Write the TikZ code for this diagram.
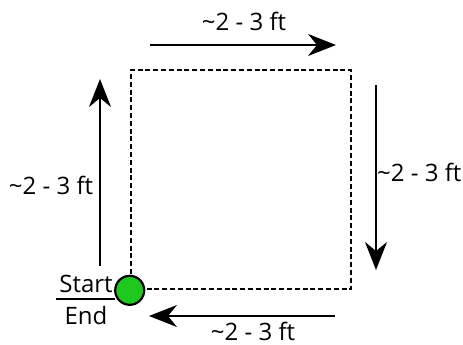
\documentclass[tikz,border=0pt]{standalone}
\usepackage{fontspec}
\setmainfont{Open Sans}
\usetikzlibrary{arrows.meta,positioning}
\definecolor{cStart}{RGB}{30,200,30}
\tikzset{
  lbl/.style={font=\fontsize{24}{28}\selectfont,inner sep=1pt},
  arr/.style={-{Stealth[length=28pt,width=22pt,inset=9pt]},line width=1.6pt},
  route/.style={draw,dash pattern=on 5pt off 2.8pt,line width=2.6pt,
                minimum width=220pt,minimum height=219pt,inner sep=0pt},
  startdot/.style={circle,draw,fill=cStart,line width=2.2pt,
                   minimum size=29pt,inner sep=0pt}
}
\newcommand{\dist}{\textasciitilde 2 - 3 ft}
\begin{document}
\begin{tikzpicture}[x=1pt,y=-1pt]
  \useasboundingbox (0,0) rectangle (463,345);

  % walking square
  \node[route] (sq) at (241,179.5) {};
  \node[startdot] (start) at (sq.south west) {};

  % start / end label
  \node[lbl] (st) at (86,284) {Start};
  \node[lbl] (en) at (86,315) {End};
  \draw[line width=1.4pt] ([xshift=-2pt,yshift=-5pt]st.south west)
      -- ([xshift=1pt,yshift=-5pt]st.south east);

  % side arrows
  \coordinate (t1) at (150,45);  \coordinate (t2) at (336,45);
  \coordinate (r1) at (376,85);  \coordinate (r2) at (376,270);
  \coordinate (b1) at (335,316); \coordinate (b2) at (149,316);
  \coordinate (l1) at (100,266); \coordinate (l2) at (100,79);

  \draw[arr] (t1) -- (t2);
  \draw[arr] (r1) -- (r2);
  \draw[arr] (b1) -- (b2);
  \draw[arr] (l1) -- (l2);

  \node[lbl] (ttop) at (244,21) {\dist};
  \node[lbl,right=0pt of r1,yshift=-87pt] (tright) {\dist};
  \node[lbl] (tbot) at (253,331) {\dist};
  \node[lbl] (tleft) at (51,185) {\dist};

\end{tikzpicture}
\end{document}
